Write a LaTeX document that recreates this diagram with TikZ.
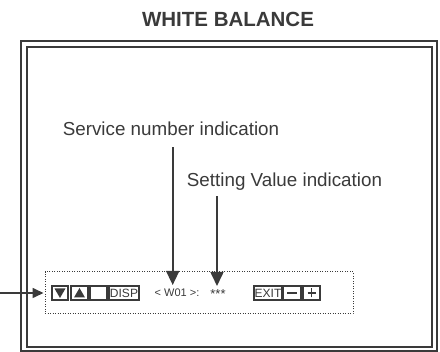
\documentclass[tikz,border=0pt]{standalone}
\usepackage{fontspec}
\setmainfont{Liberation Sans}
\usetikzlibrary{arrows.meta,positioning}
\definecolor{INK}{HTML}{3A3A3A}

\tikzset{
  key/.style={draw=INK, line width=1.3pt, minimum height=14pt, inner sep=0pt,
    text=INK, font=\fontsize{12}{12}\selectfont},
  pointer/.style={draw=INK, line width=1.6pt, -{Triangle[length=14pt,width=13pt]}},
  caption/.style={font=\fontsize{18.8}{20}\selectfont, text=INK, inner sep=0pt, anchor=base},
}

\begin{document}
\begin{tikzpicture}[x=1pt,y=-1pt]
        \useasboundingbox (0,0) rectangle (440,352);
        % title and the two frames of the screen
        \node[font=\fontsize{20.5}{21}\selectfont\bfseries, text=INK, inner sep=0pt, anchor=base]
          (title) at (228,26.7) {WHITE BALANCE};
        \draw[INK, line width=1.3pt] (21,41) rectangle (437,351);
        \draw[INK, line width=1.6pt] (27,47) rectangle (432,347);
        % captions
        \node[caption] (svclbl) at (171,136) {Service number indication};
        \node[caption] (setlbl) at (284.5,186.7) {Setting Value indication};
        % menu bar
        \node[draw=INK, line width=1pt, dash pattern=on 1pt off 1.5pt,
          minimum width=308pt, minimum height=42pt, inner sep=0pt]
          (menubar) at (199,293) {};
        \foreach \nm/\cx/\kw/\txt in {dn/60/16/, up/79.5/17/, blank/98.5/17/,
            disp/124/30/DISP, exit/268/28/EXIT, minus/292/18/, plus/311.5/17/}{
          \node[key, minimum width=\kw pt] (\nm) at (\cx,293) {\txt};
        }
        \fill[INK] ([shift={(-5.5,-4.5)}]dn.center) -- ([shift={(5.5,-4.5)}]dn.center)
          -- ([shift={(0,5)}]dn.center) -- cycle;
        \fill[INK] ([shift={(-5.5,4.5)}]up.center) -- ([shift={(5.5,4.5)}]up.center)
          -- ([shift={(0,-5)}]up.center) -- cycle;
        \draw[INK, line width=1.8pt] ([xshift=-5pt]minus.center) -- ([xshift=5pt]minus.center);
        \draw[INK, line width=1.8pt] ([xshift=-4pt]plus.center) -- ([xshift=4pt]plus.center);
        \draw[INK, line width=1.8pt] ([yshift=-4.5pt]plus.center) -- ([yshift=4.5pt]plus.center);
        \node[text=INK, font=\fontsize{11}{11}\selectfont] (w01) at (177,293) {< W01 >:};
        \node[text=INK, font=\fontsize{13}{13}\selectfont] (stars) at (218,294) {***};
        % pointers
        \coordinate (feed) at (0,293);
        \coordinate (svctip) at (172.7,285);
        \coordinate (settip) at (217,286);
        \draw[pointer, -{Triangle[length=11pt,width=10pt]}, shorten >=1pt] (feed) -- (menubar.west);
        \draw[pointer, shorten <=11pt] (svclbl.south -| svctip) -- (svctip);
        \draw[pointer, shorten <=5.5pt] (setlbl.south -| settip) -- (settip);
      \end{tikzpicture}
\end{document}
